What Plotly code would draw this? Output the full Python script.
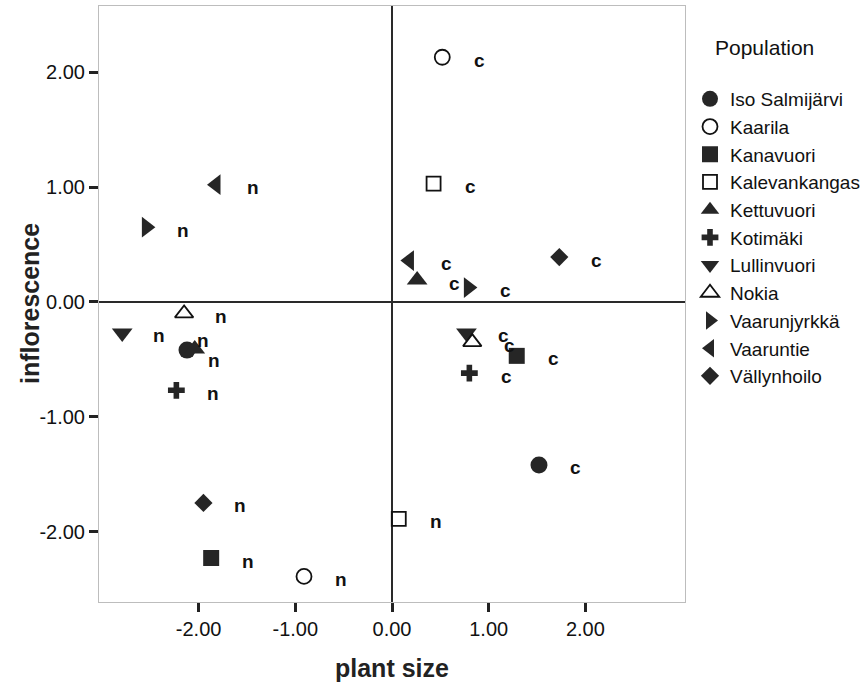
import plotly.graph_objects as go

populations = ["Iso Salmijärvi", "Kaarila", "Kanavuori", "Kalevankangas", "Kettuvuori",
               "Kotimäki", "Lullinvuori", "Nokia", "Vaarunjyrkkä", "Vaaruntie", "Vällynhoilo"]

# group "n" points
n_x = [-2.12, -0.91, -1.87, 0.07, -2.04, -2.23, -2.79, -2.15, -2.54, -1.82, -1.95]
n_y = [-0.42, -2.39, -2.23, -1.89, -0.41, -0.77, -0.27, -0.10, 0.65, 1.02, -1.75]
# group "c" points
c_x = [1.52, 0.52, 1.29, 0.43, 0.26, 0.80, 0.77, 0.83, 0.79, 0.18, 1.73]
c_y = [-1.42, 2.13, -0.47, 1.03, 0.19, -0.62, -0.27, -0.35, 0.125, 0.36, 0.39]

group_labels = ["n", "c"]
x_ticks = [-2, -1, 0, 1, 2]
y_ticks = [-2, -1, 0, 1, 2]
x_ticktext = [f"{v:.2f}" for v in x_ticks]
y_ticktext = [f"{v:.2f}" for v in y_ticks]

symbols = ["circle", "circle-open", "square", "square-open", "triangle-up", "cross",
           "triangle-down", "triangle-up-open", "triangle-right", "triangle-left", "diamond"]
sizes = [17, 15, 16, 14, 18, 14, 18, 16, 18, 18, 14]

FONT = "Liberation Sans, Arial, sans-serif"
DARK = "#262626"

fig = go.Figure()
for i, name in enumerate(populations):
    open_sym = symbols[i].endswith("-open")
    fig.add_trace(go.Scatter(
        x=[n_x[i], c_x[i]], y=[n_y[i], c_y[i]], mode="markers", name=name,
        marker=dict(symbol=symbols[i], size=sizes[i],
                    color="#111111" if open_sym else DARK,
                    line=dict(width=1.8 if open_sym else 0, color="#111111")),
    ))

# label offsets (pixels) for crowded labels
label_shift = {("n", 0): (16, 10), ("n", 4): (19, -12)}

annotations = []
for i in range(len(populations)):
    for g, xs, ys in (("n", n_x, n_y), ("c", c_x, c_y)):
        dx, dy = label_shift.get((g, i), (37, -3))
        annotations.append(dict(x=xs[i], y=ys[i], text=g, showarrow=False,
                                xshift=dx, yshift=dy,
                                font=dict(family=FONT, size=19, color="#111111", weight="bold")))

annotations.append(dict(text="Population", xref="paper", yref="paper",
                        x=(713 - 99) / 586, y=(602 - 47) / 596, xanchor="left", yanchor="middle",
                        showarrow=False, font=dict(family=FONT, size=21, color="#111111")))
annotations.append(dict(text="<b>inflorescence</b>", xref="paper", yref="paper",
                        x=(30 - 99) / 586, y=0.5, xanchor="center", yanchor="middle",
                        textangle=-90, showarrow=False,
                        font=dict(family=FONT, size=25, color="#222222")))
annotations.append(dict(text="<b>plant size</b>", xref="paper", yref="paper",
                        x=0.5, y=(602 - 668) / 596, xanchor="center", yanchor="middle",
                        showarrow=False,
                        font=dict(family=FONT, size=25, color="#222222")))

axis_common = dict(
    showgrid=False, zeroline=True, zerolinecolor="#2a2a2a", zerolinewidth=1.5,
    showline=True, mirror=True, linecolor="#bdbdbd", linewidth=1,
    ticks="outside", ticklen=9, tickwidth=3, tickcolor="#222222",
    tickfont=dict(family=FONT, size=20, color="#111111"),
)

fig.update_layout(
    width=865, height=686,
    margin=dict(l=99, r=180, t=6, b=84, autoexpand=False),
    paper_bgcolor="white", plot_bgcolor="white",
    xaxis=dict(range=[-3.03, 3.03], tickvals=x_ticks, ticktext=x_ticktext, **axis_common),
    yaxis=dict(range=[-2.613, 2.576], tickvals=y_ticks, ticktext=y_ticktext, **axis_common),
    legend=dict(x=(690 - 99) / 586, xanchor="left", y=(602 - 80) / 596, yanchor="top",
                font=dict(family=FONT, size=19, color="#111111"),
                bgcolor="rgba(0,0,0,0)", borderwidth=0),
    annotations=annotations,
    showlegend=True,
)

fig.write_html("out.html")
